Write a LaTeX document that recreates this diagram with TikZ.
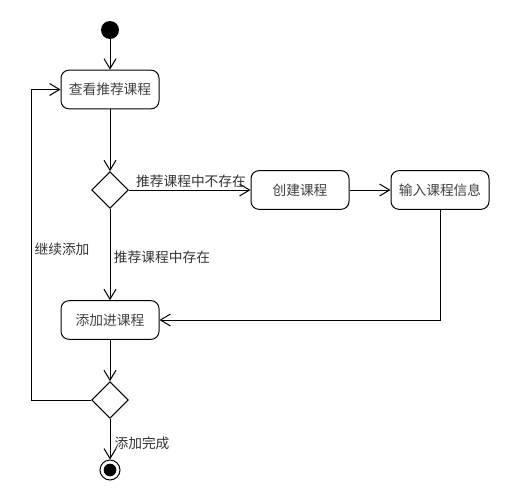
\documentclass[tikz,border=0pt]{standalone}
\usepackage{fontspec}
\setmainfont{Noto Sans CJK SC}
\usetikzlibrary{arrows.meta,shapes.geometric}
\begin{document}
\begin{tikzpicture}[x=0.75pt,y=-0.75pt,
  every node/.style={font=\fontsize{10.3pt}{12pt}\selectfont, text=black!80},
  act/.style={draw=black, line width=0.75pt, rounded corners=6pt, minimum width=73.5pt, minimum height=29pt, inner sep=0pt, text=black!75},
  dec/.style={draw=black, line width=0.75pt, diamond, aspect=1, minimum width=27.5pt, minimum height=27.5pt, inner sep=0pt},
  flow/.style={draw=black, line width=0.75pt, -{Straight Barb[length=7.5pt,width=9pt,line width=0.75pt]}},
  lbl/.style={inner sep=0pt, text=black!80}]
\useasboundingbox (0,0) rectangle (510,500);
\node[circle, fill=black, minimum size=13.5pt, inner sep=0pt] (start) at (110,30) {};
\node[act] (view) at (110,89.5) {查看推荐课程};
\node[dec] (d1) at (110,190) {};
\node[act] (create) at (300,190) {创建课程};
\node[act] (input) at (440,190) {输入课程信息};
\node[act] (add) at (110,320) {添加进课程};
\node[dec] (d2) at (110,400) {};
\node[circle, draw=black, line width=0.75pt, minimum size=15pt, inner sep=0pt] (end) at (110,470) {};
\node[circle, fill=black, minimum size=9.5pt, inner sep=0pt] at (end.center) {};
\coordinate (loopA) at (31,400);
\coordinate (loopB) at (31,89.5);
\coordinate (inA) at (440,320);

\draw[flow] (start) -- (view);
\draw[flow] (view) -- (d1);
\draw[flow] (d1.east) -- (create.west);
\draw[flow] (create) -- (input);
\draw[flow] (d1.south) -- (add.north);
\draw[flow] (input.south) -- (inA) -- (add.east);
\draw[flow] (add) -- (d2);
\draw[flow] (d2.west) -- (loopA) -- (loopB) -- (view.west);
\draw[flow] (d2.south) -- (end.north);

\node[lbl] (l1) at (191,181) {推荐课程中不存在};
\node[lbl] (l2) at (162,257) {推荐课程中存在};
\node[lbl] (l3) at (62,249) {继续添加};
\node[lbl] (l4) at (142,443) {添加完成};
\end{tikzpicture}
\end{document}
